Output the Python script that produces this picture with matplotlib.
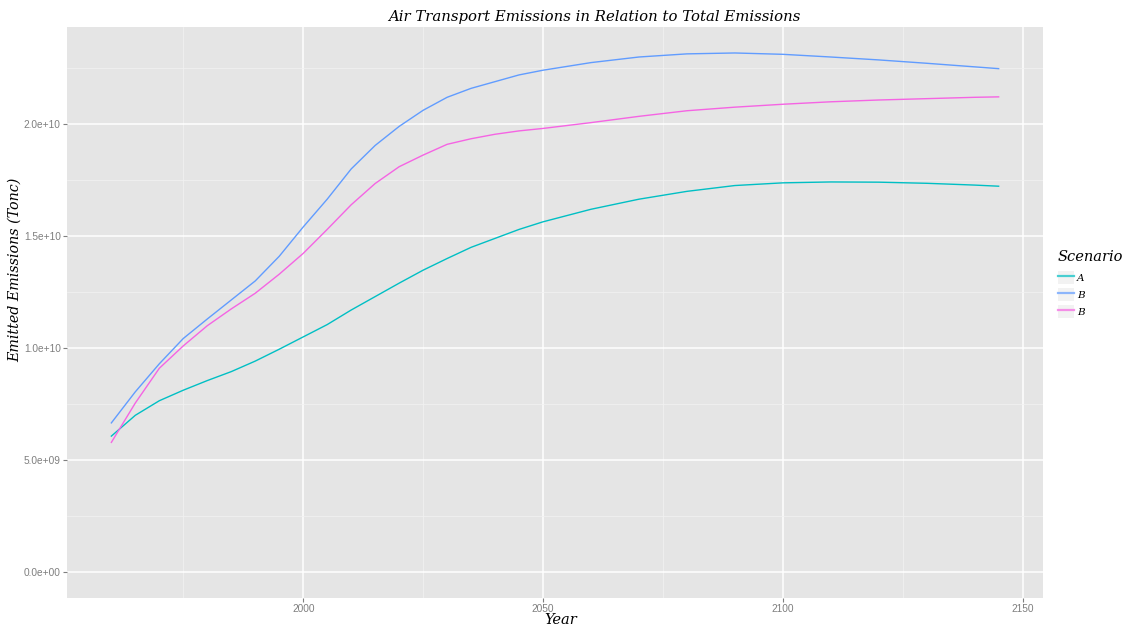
import matplotlib
matplotlib.use("Agg")
import matplotlib.pyplot as plt
from matplotlib.ticker import FixedLocator, FuncFormatter
from matplotlib.lines import Line2D
from matplotlib.patches import Patch

years = [1960, 1965, 1970, 1975, 1980, 1985, 1990, 1995, 2000, 2005, 2010,
         2015, 2020, 2025, 2030, 2035, 2040, 2045, 2050, 2060, 2070, 2080,
         2090, 2100, 2110, 2120, 2130, 2140, 2145]

scenario_a = [6.07e9, 7.0e9, 7.65e9, 8.12e9, 8.55e9, 8.95e9, 9.42e9, 9.95e9, 1.05e10,
              1.105e10, 1.17e10, 1.23e10, 1.29e10, 1.348e10, 1.40e10, 1.45e10,
              1.49e10, 1.53e10, 1.564e10, 1.62e10, 1.665e10, 1.70e10, 1.726e10,
              1.738e10, 1.742e10, 1.741e10, 1.736e10, 1.728e10, 1.723e10]

scenario_b1 = [6.66e9, 8.05e9, 9.3e9, 1.043e10, 1.13e10, 1.215e10, 1.30e10, 1.41e10,
               1.541e10, 1.665e10, 1.80e10, 1.905e10, 1.99e10, 2.062e10, 2.12e10,
               2.16e10, 2.19e10, 2.22e10, 2.241e10, 2.275e10, 2.30e10, 2.314e10,
               2.318e10, 2.312e10, 2.30e10, 2.287e10, 2.272e10, 2.256e10, 2.248e10]

scenario_b2 = [5.79e9, 7.55e9, 9.1e9, 1.01e10, 1.1e10, 1.175e10, 1.245e10, 1.33e10,
               1.423e10, 1.53e10, 1.64e10, 1.735e10, 1.81e10, 1.862e10, 1.91e10,
               1.935e10, 1.955e10, 1.97e10, 1.981e10, 2.007e10, 2.035e10, 2.06e10,
               2.076e10, 2.089e10, 2.10e10, 2.108e10, 2.114e10, 2.12e10, 2.122e10]

series = [("A", scenario_a, "#00BFC4"),
          ("B", scenario_b1, "#619CFF"),
          ("B", scenario_b2, "#F564E3")]

x_major = [2000, 2050, 2100, 2150]
x_minor = [1975, 2025, 2075, 2125]
y_major = [0, 5e9, 1e10, 1.5e10, 2e10]
y_minor = [2.5e9, 7.5e9, 1.25e10, 1.75e10, 2.25e10]

serif = "DejaVu Serif"
W, H = 1130, 630

fig = plt.figure(figsize=(11.3, 6.3), dpi=100)
ax = fig.add_axes([67 / W, 1 - 598 / H, (1043 - 67) / W, (598 - 27) / H])
ax.set_facecolor("#E5E5E5")
for s in ax.spines.values():
    s.set_visible(False)

for name, vals, col in series:
    ax.plot(years, vals, color=col, lw=1.0, zorder=3)

ax.set_xlim(1950.75, 2154.25)
ax.set_ylim(-1.16e9, 2.434e10)

ax.xaxis.set_major_locator(FixedLocator(x_major))
ax.xaxis.set_minor_locator(FixedLocator(x_minor))
ax.yaxis.set_major_locator(FixedLocator(y_major))
ax.yaxis.set_minor_locator(FixedLocator(y_minor))
ax.yaxis.set_major_formatter(FuncFormatter(lambda v, p: "%.1e" % v))
ax.grid(which="major", color="white", lw=1.1, zorder=1)
ax.grid(which="minor", color="#F2F2F2", lw=0.5, zorder=1)
ax.set_axisbelow(True)
ax.tick_params(which="major", length=3, width=0.8, color="#7F7F7F",
               labelcolor="#7F7F7F", labelsize=7.3, pad=1.5)
ax.tick_params(which="minor", length=0)
for lab in ax.get_xticklabels() + ax.get_yticklabels():
    lab.set_fontfamily("Liberation Sans")

# titles placed where the reference has them
fig.text(594 / W, 1 - 17 / H, "Air Transport Emissions in Relation to Total Emissions",
         family=serif, style="italic", fontsize=10.7, ha="center", va="center")
fig.text(561 / W, 1 - 620 / H, "Year", family=serif, style="italic",
         fontsize=10.5, ha="center", va="center")
fig.text(15 / W, 1 - 270 / H, "Emitted Emissions (Tonc)", family=serif,
         style="italic", fontsize=10.3, rotation=90, ha="center", va="center")

# legend
fig.text(1058 / W, 1 - 257 / H, "Scenario", family=serif, style="italic",
         fontsize=10.5, ha="left", va="center")
handles = [(Patch(facecolor="#F2F2F2", edgecolor="none"),
            Line2D([], [], color=c, lw=1.6, alpha=0.7)) for _, _, c in series]
labels = [n for n, _, _ in series]
leg = fig.legend(handles, labels, loc="upper left",
                 bbox_to_anchor=(1058 / W, 1 - 271 / H), frameon=False,
                 borderpad=0, borderaxespad=0,
                 prop={"family": serif, "style": "italic", "size": 7.5},
                 handlelength=1.55, handleheight=1.6, handletextpad=0.3,
                 labelspacing=0.35)

fig.savefig("out.png", dpi=100)
